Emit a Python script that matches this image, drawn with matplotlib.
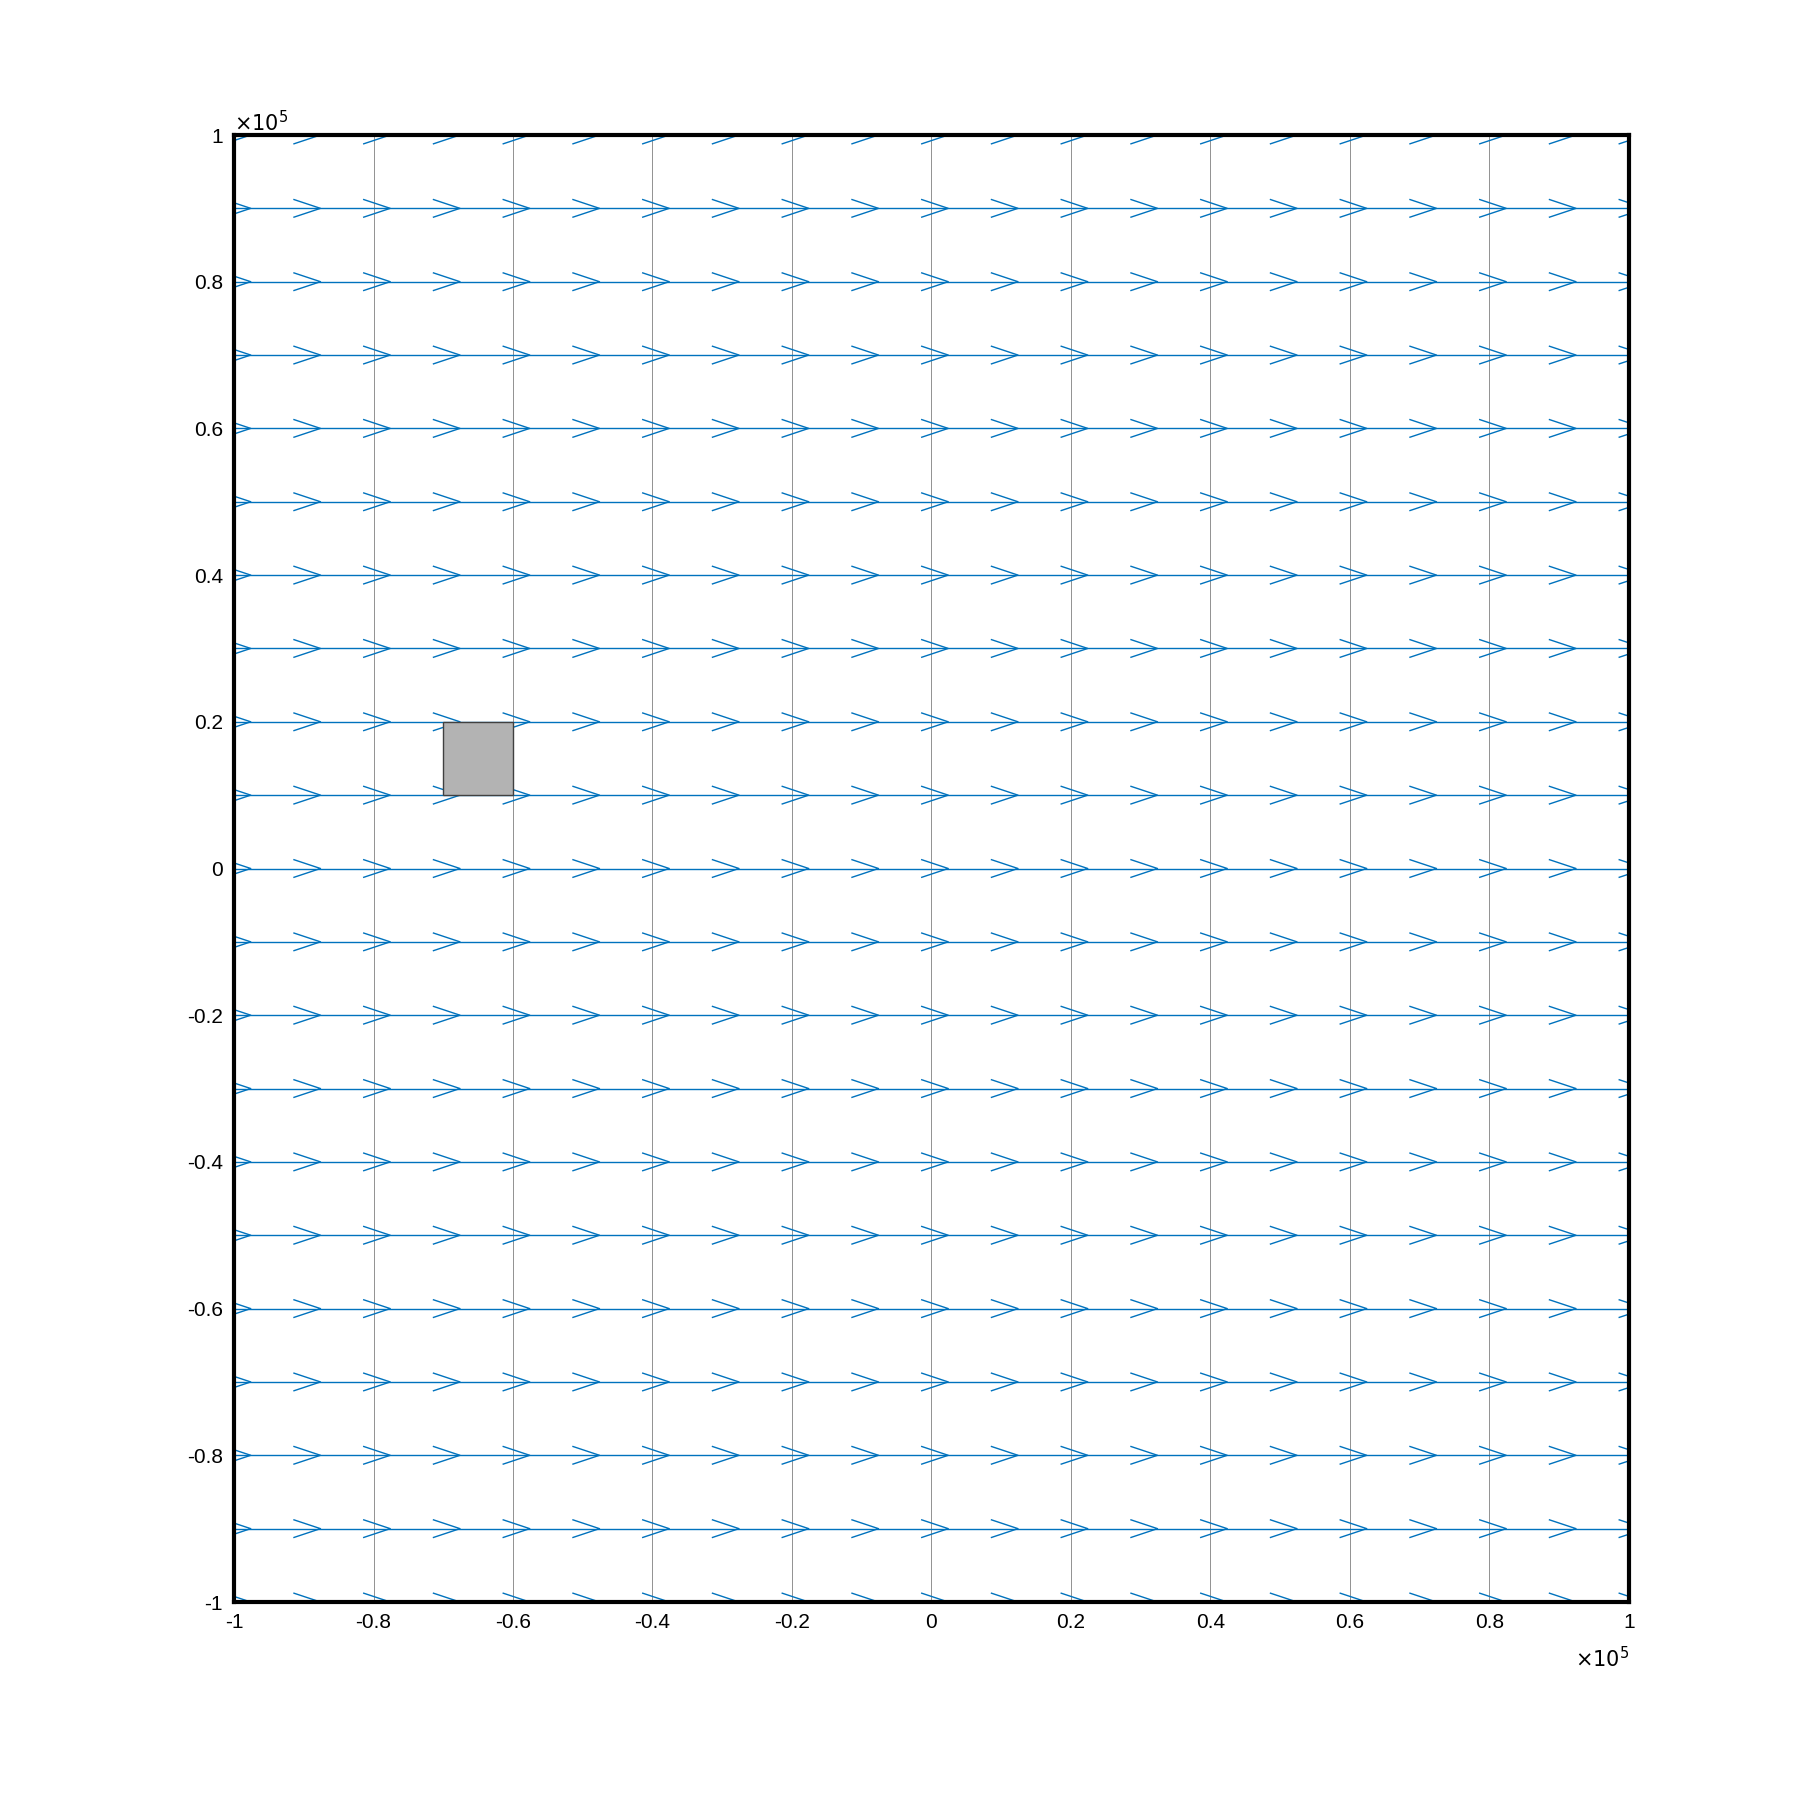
import numpy as np
import matplotlib
matplotlib.use("Agg")
import matplotlib.pyplot as plt
from matplotlib.patches import Rectangle

plt.rcParams['font.family'] = ['Liberation Sans', 'DejaVu Sans']

grid_x = np.arange(-11, 11) * 1e4   # arrow base points (some off-axis, clipped)
grid_y = np.arange(-10, 11) * 1e4
dx = 1e4
tip_offset = 0.24
head_len = 0.38
head_w = 0.12
ticks = np.arange(-1, 1.01, 0.2) * 1e5
tick_labels = ['-1', '-0.8', '-0.6', '-0.4', '-0.2', '0', '0.2', '0.4', '0.6', '0.8', '1']
rect_x, rect_y, rect_w, rect_h = -7e4, 1e4, 1e4, 1e4

fig = plt.figure(figsize=(18, 18), dpi=100)
ax = fig.add_axes([0.13, 0.11, 0.775, 0.815])
blue = '#0072BD'
for y in grid_y:
    ax.plot([-1.2e5, 1.2e5], [y, y], color=blue, lw=1.0)
    for x in grid_x:
        tip = x + tip_offset * dx
        ax.plot([tip - head_len * dx, tip, tip - head_len * dx],
                [y + head_w * dx, y, y - head_w * dx], color=blue, lw=1.0)
for t in ticks:
    ax.axvline(t, color='#808080', lw=0.6, zorder=0.5)
ax.add_patch(Rectangle((rect_x, rect_y), rect_w, rect_h, facecolor='#b3b3b3',
                       edgecolor='#404040', lw=1.0, zorder=3))
ax.set_xlim(-1e5, 1e5)
ax.set_ylim(-1e5, 1e5)
ax.set_xticks(ticks)
ax.set_xticklabels(tick_labels)
ax.set_yticks(ticks)
ax.set_yticklabels(tick_labels)
ax.tick_params(labelsize=15, length=0, pad=8)
for s in ax.spines.values():
    s.set_linewidth(3)
ax.text(0, 1.0, r'$\times10^5$', transform=ax.transAxes, fontsize=15,
        ha='left', va='bottom')
ax.text(1.0, -0.03, r'$\times10^5$', transform=ax.transAxes, fontsize=15,
        ha='right', va='top')
fig.savefig('out.png')
